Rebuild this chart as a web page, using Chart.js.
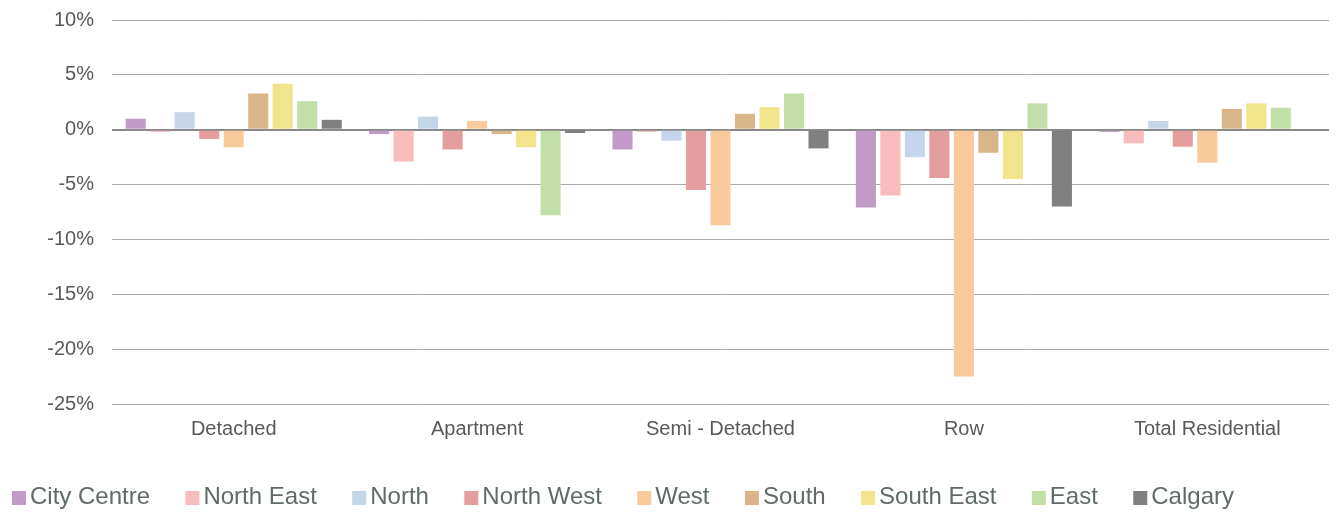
<!DOCTYPE html>
<html>
<head>
<meta charset="utf-8">
<script src="https://cdn.jsdelivr.net/npm/chart.js@4.4.0/dist/chart.umd.min.js"></script>
<style>
html,body{margin:0;padding:0;background:#fff;}
#wrap{width:1343px;height:512px;position:relative;}
</style>
</head>
<body>
<div id="wrap"><canvas id="c" width="1343" height="512"></canvas></div>
<script>
const categories = ["Detached", "Apartment", "Semi - Detached", "Row", "Total Residential"];
const seriesNames = ["City Centre", "North East", "North", "North West", "West", "South", "South East", "East", "Calgary"];
const cityCentre = [1.0, -0.4, -1.8, -7.1, -0.2];
const northEast  = [-0.2, -2.9, -0.2, -6.0, -1.25];
const north      = [1.6, 1.2, -1.0, -2.5, 0.8];
const northWest  = [-0.85, -1.8, -5.5, -4.4, -1.55];
const west       = [-1.6, 0.8, -8.7, -22.5, -3.0];
const south      = [3.3, -0.4, 1.45, -2.1, 1.9];
const southEast  = [4.2, -1.6, 2.05, -4.5, 2.4];
const east       = [2.6, -7.8, 3.3, 2.4, 2.0];
const calgary    = [0.9, -0.3, -1.7, -7.0, -0.12];
const yMin = -25, yMax = 10, yStep = 5;

const seriesValues = [cityCentre, northEast, north, northWest, west, south, southEast, east, calgary];
const seriesColors = ["#c39bc8", "#f8bcbc", "#c5d5ea", "#e49e9d", "#f8ca9c", "#d9b68a", "#f2e48d", "#c3dfa9", "#808080"];

const FONT = "'Liberation Sans', Arial, sans-serif";

const legendPlugin = {
  id: 'customLegend',
  afterDraw(chart) {
    const ctx = chart.ctx;
    ctx.save();
    ctx.font = "24px " + FONT;
    ctx.textBaseline = 'middle';
    ctx.textAlign = 'left';
    const y = 497;
    const box = 14, gapBox = 4, gapItem = 35.4;
    let x = 12;
    chart.data.datasets.forEach(ds => {
      ctx.fillStyle = ds.backgroundColor;
      ctx.fillRect(x, y - box / 2 + 1, box, box);
      ctx.fillStyle = '#5f6b66';
      ctx.fillText(ds.label, x + box + gapBox, y);
      x += box + gapBox + ctx.measureText(ds.label).width + gapItem;
    });
    ctx.restore();
  }
};

new Chart(document.getElementById('c'), {
  type: 'bar',
  data: {
    labels: categories,
    datasets: seriesNames.map((n, i) => ({
      label: n,
      data: seriesValues[i],
      backgroundColor: seriesColors[i],
      borderWidth: 0,
      categoryPercentage: 0.906,
      barPercentage: 0.82
    }))
  },
  options: {
    responsive: false,
    animation: false,
    layout: { padding: { left: 0, right: 14, top: 20, bottom: 60 } },
    plugins: { legend: { display: false }, tooltip: { enabled: false } },
    scales: {
      x: {
        grid: { display: false, drawTicks: false },
        border: { display: false },
        ticks: { color: '#595959', font: { family: FONT, size: 20 }, padding: 13, maxRotation: 0 },
        afterFit(s) { s.height = 48; s.paddingLeft = 0; s.paddingRight = 0; }
      },
      y: {
        min: yMin, max: yMax,
        grid: {
          drawTicks: false,
          color: c => c.tick && c.tick.value === 0 ? '#898989' : '#ababab',
          lineWidth: c => c.tick && c.tick.value === 0 ? 2 : 1
        },
        border: { display: false },
        ticks: { stepSize: yStep, color: '#595959', font: { family: FONT, size: 20 }, padding: 18, callback: v => v + '%' },
        afterFit(s) { s.width = 112; s.paddingTop = 0; s.paddingBottom = 0; }
      }
    }
  },
  plugins: [legendPlugin]
});
</script>
</body>
</html>
